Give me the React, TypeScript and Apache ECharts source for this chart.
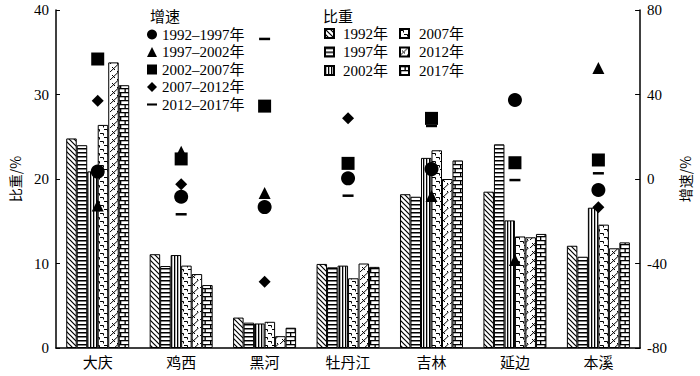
import React, { useEffect, useRef } from "react";
import * as echarts from "echarts";

const categories = ["大庆", "鸡西", "黑河", "牡丹江", "吉林", "延边", "本溪"];

const shareNames = ["1992年", "1997年", "2002年", "2007年", "2012年", "2017年"];
const share1992 = [24.8, 11.1, 3.6, 9.95, 18.2, 18.5, 12.1];
const share1997 = [24.0, 9.7, 3.0, 9.55, 17.9, 24.1, 10.8];
const share2002 = [20.9, 11.0, 2.9, 9.75, 22.5, 15.1, 16.6];
const share2007 = [26.4, 9.75, 3.1, 8.25, 23.4, 13.2, 14.6];
const share2012 = [33.8, 8.75, 1.4, 10.0, 20.0, 13.1, 11.8];
const share2017 = [31.1, 7.45, 2.4, 9.6, 22.2, 13.5, 12.5];

const growthNames = ["1992–1997年", "1997–2002年", "2002–2007年", "2007–2012年", "2012–2017年"];
const growth9297 = [3.5, -8.4, -13.3, 0.3, 4.7, 37.4, -5.2];
const growth9702 = [-12.6, 12.9, -6.6, null, -8.0, -38.3, 52.5];
const growth0207 = [56.8, 9.5, 34.5, 7.4, 28.7, 7.7, 9.0];
const growth0712 = [37.1, -2.5, -48.6, 28.7, null, null, -13.4];
const growth1217 = [null, -16.7, 66.3, -7.9, 25.1, -0.5, 2.7];

const leftTicks = { min: 0, max: 40, interval: 10 };
const rightTicks = { min: -80, max: 80, interval: 40 };

const SERIF = "'Liberation Serif', 'Times New Roman', 'Noto Sans CJK SC', serif";
const CJK = "'Noto Sans CJK SC', 'Liberation Serif', serif";
const DASH = "path://M0,0H12V3H0Z";

function makePattern(w: number, h: number, draw: (c: CanvasRenderingContext2D) => void) {
  const cv = document.createElement("canvas");
  cv.width = w;
  cv.height = h;
  const c = cv.getContext("2d")!;
  c.fillStyle = "#fff";
  c.fillRect(0, 0, w, h);
  c.strokeStyle = "#000";
  c.fillStyle = "#000";
  draw(c);
  return { image: cv, repeat: "repeat", imageWidth: w, imageHeight: h } as any;
}

function buildPatterns() {
  const p1992 = makePattern(5, 5, (c) => {
    c.lineWidth = 1.2;
    c.beginPath();
    c.moveTo(-1, -1);
    c.lineTo(6, 6);
    c.moveTo(-1, 4);
    c.lineTo(1, 6);
    c.moveTo(4, -1);
    c.lineTo(6, 1);
    c.stroke();
  });
  const p1997 = makePattern(4, 4, (c) => {
    c.fillRect(0, 0, 4, 1.5);
  });
  const p2002 = makePattern(3, 4, (c) => {
    c.fillRect(0, 0, 1.3, 4);
  });
  const p2007 = makePattern(8, 8, (c) => {
    c.lineWidth = 1;
    c.beginPath();
    c.moveTo(0, 1.5);
    c.lineTo(3.5, 1.5);
    c.lineTo(3.5, 3.5);
    c.moveTo(4, 5.5);
    c.lineTo(7.5, 5.5);
    c.lineTo(7.5, 7.5);
    c.stroke();
  });
  const p2012 = makePattern(10, 8, (c) => {
    c.lineWidth = 1;
    c.beginPath();
    c.moveTo(-1, 9);
    c.lineTo(10, -1.5);
    c.moveTo(2, 3);
    c.lineTo(5, 6);
    c.moveTo(7, 7);
    c.lineTo(9, 9);
    c.stroke();
  });
  const p2017 = makePattern(10, 8, (c) => {
    c.fillRect(0, 0, 10, 1.3);
    c.fillRect(0, 4, 10, 1.3);
    c.fillRect(4.5, 0, 1.3, 4);
    c.fillRect(0, 4, 1.3, 4);
  });
  return [p1992, p1997, p2002, p2007, p2012, p2017];
}

export default function App() {
  const ref = useRef<HTMLDivElement>(null);

  useEffect(() => {
    if (!ref.current) return;
    const chart = echarts.init(ref.current, undefined, { renderer: "svg" });
    const patterns = buildPatterns();
    const shareData = [share1992, share1997, share2002, share2007, share2012, share2017];
    const growthData = [growth9297, growth9702, growth0207, growth0712, growth1217];
    const symbols = ["circle", "triangle", "rect", "diamond", DASH];
    const sizes: any[] = [14, 12, 13, 12, [11, 2.5]];
    const legendIcons = ["circle", "triangle", "rect", "diamond", "path://M0,4H12V6.5H0Z"];

    const barSeries = shareNames.map((name, i) => ({
      name,
      type: "bar",
      yAxisIndex: 0,
      barWidth: 10.5,
      barGap: "0%",
      data: shareData[i],
      itemStyle: { color: patterns[i], borderColor: "#000", borderWidth: 1 },
      z: 2,
    }));

    const scatterSeries = growthNames.map((name, i) => ({
      name,
      type: "scatter",
      yAxisIndex: 1,
      symbol: symbols[i],
      symbolSize: sizes[i],
      data: growthData[i],
      itemStyle: { color: "#000", opacity: 1 },
      z: 5,
    }));

    const legendText = { color: "#000", fontSize: 15, fontFamily: SERIF };

    chart.setOption({
      animation: false,
      grid: { left: 50, right: 47, top: 10, bottom: 28, containLabel: false },
      graphic: [
        { type: "text", left: 150, top: 8, style: { text: "增速", fontSize: 15, fontFamily: CJK, fill: "#000" } },
        { type: "text", left: 323, top: 8, style: { text: "比重", fontSize: 15, fontFamily: CJK, fill: "#000" } },
      ],
      legend: [
        {
          orient: "vertical",
          left: 147,
          top: 27,
          padding: 0,
          itemWidth: 10,
          itemHeight: 10,
          itemGap: 2.5,
          textStyle: legendText,
          selectedMode: false,
          data: growthNames.map((n, i) => ({ name: n, icon: legendIcons[i] })),
        },
        {
          orient: "vertical",
          left: 324,
          top: 26,
          padding: 0,
          itemWidth: 9,
          itemHeight: 9,
          itemGap: 3.5,
          textStyle: { ...legendText, padding: [0, 0, 0, 4] },
          selectedMode: false,
          data: shareNames.slice(0, 3).map((n) => ({ name: n, icon: "rect" })),
        },
        {
          orient: "vertical",
          left: 399,
          top: 26,
          padding: 0,
          itemWidth: 9,
          itemHeight: 9,
          itemGap: 3.5,
          textStyle: { ...legendText, padding: [0, 0, 0, 5] },
          selectedMode: false,
          data: shareNames.slice(3).map((n) => ({ name: n, icon: "rect" })),
        },
      ],
      xAxis: {
        type: "category",
        data: categories,
        axisLine: { lineStyle: { color: "#000", width: 1.5 } },
        axisTick: { show: false },
        axisLabel: { color: "#000", fontSize: 15, fontFamily: CJK, margin: 6 },
      },
      yAxis: [
        {
          type: "value",
          ...leftTicks,
          position: "left",
          name: "比重/%",
          nameLocation: "middle",
          nameRotate: 90,
          nameGap: 34,
          nameTextStyle: { color: "#000", fontSize: 14, fontFamily: CJK },
          axisLine: { show: true, lineStyle: { color: "#000", width: 1.5 } },
          axisTick: { show: true, inside: true, length: 4, lineStyle: { color: "#000" } },
          axisLabel: { color: "#000", fontSize: 15, fontFamily: SERIF, margin: 7 },
          splitLine: { show: false },
        },
        {
          type: "value",
          ...rightTicks,
          position: "right",
          name: "增速/%",
          nameLocation: "middle",
          nameRotate: 90,
          nameGap: 35,
          nameTextStyle: { color: "#000", fontSize: 14, fontFamily: CJK },
          axisLine: { show: true, lineStyle: { color: "#000", width: 1.5 } },
          axisTick: { show: true, inside: true, length: 5, lineStyle: { color: "#000" } },
          axisLabel: { color: "#000", fontSize: 15, fontFamily: SERIF, margin: 7 },
          splitLine: { show: false },
        },
      ],
      series: [...barSeries, ...scatterSeries],
    });

    return () => chart.dispose();
  }, []);

  return (
    <div
      ref={ref}
      style={{ position: "fixed", left: 0, top: 0, width: 700, height: 376, background: "#fff" }}
    />
  );
}
